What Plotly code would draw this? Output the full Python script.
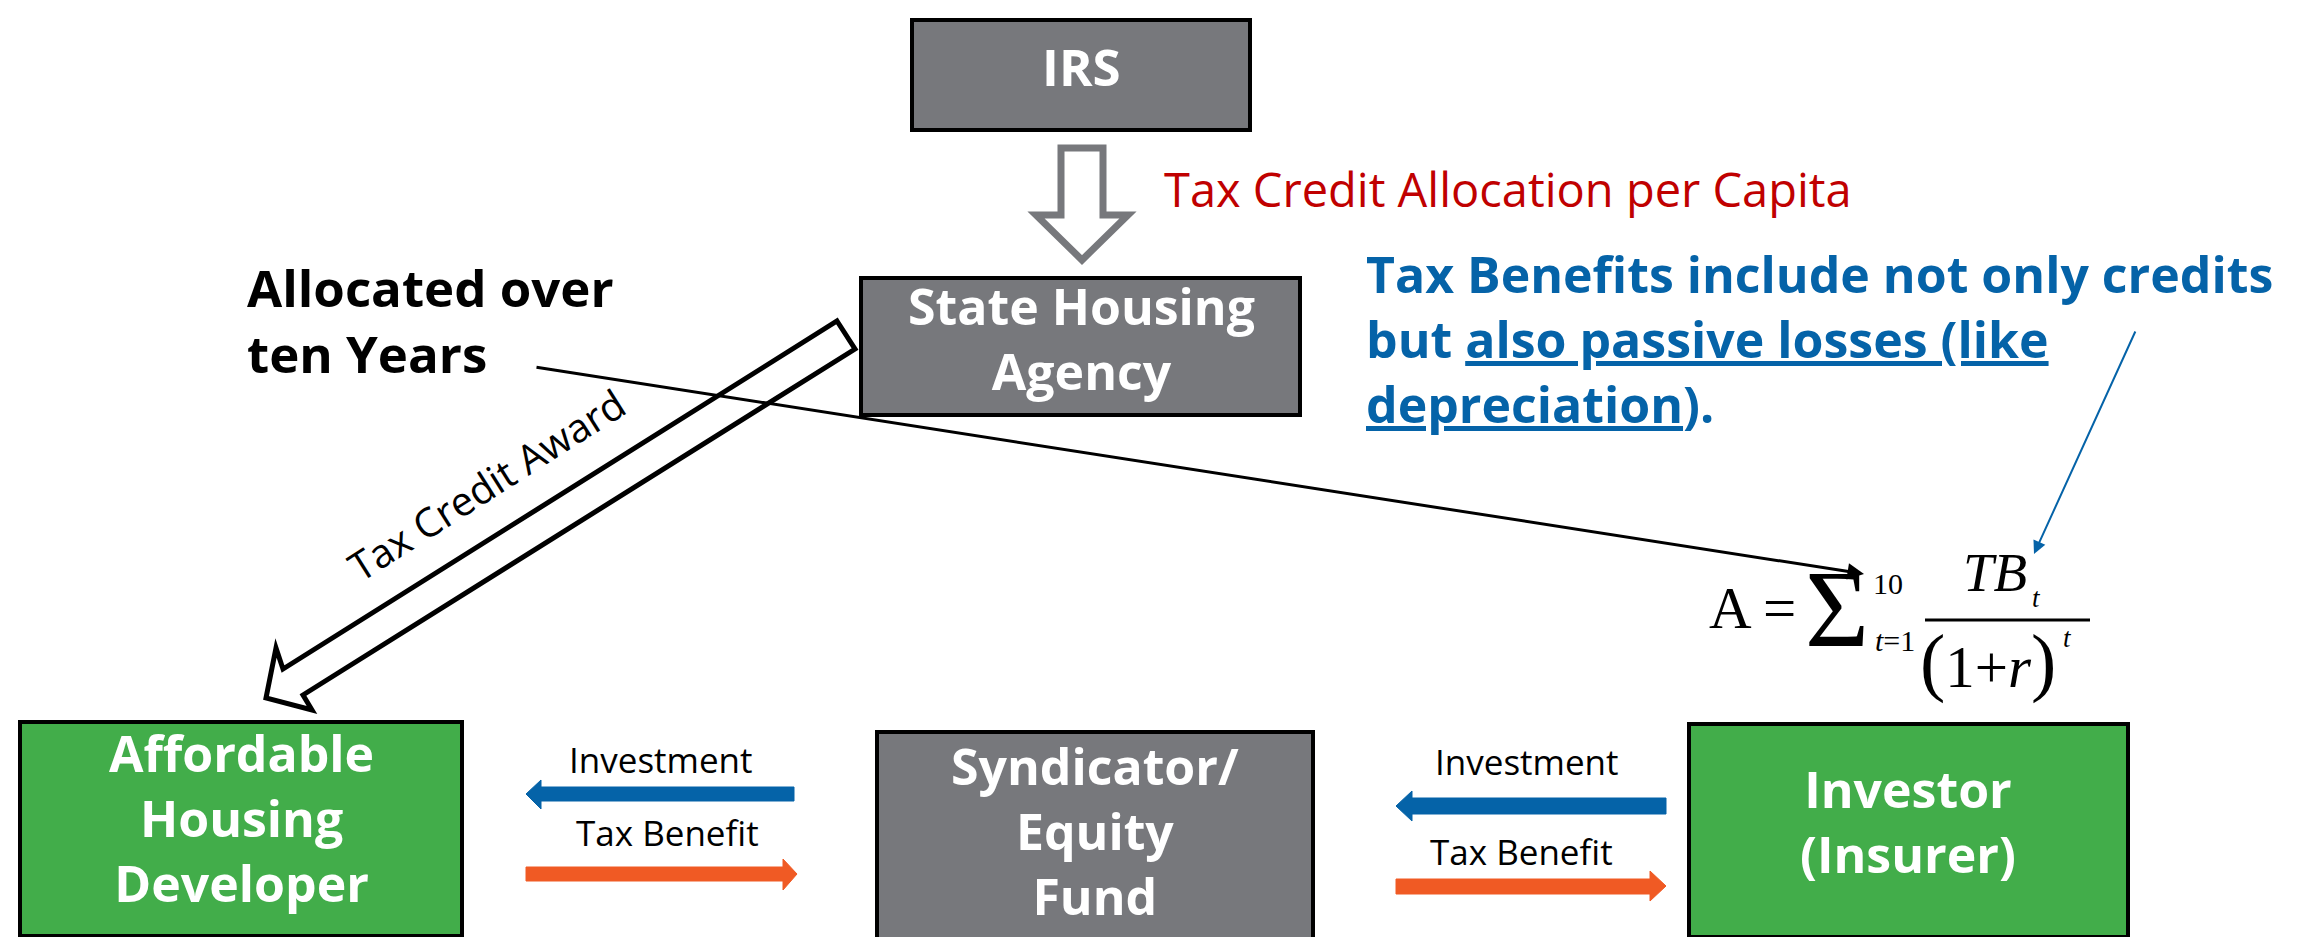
import plotly.graph_objects as go

# ---- diagram content ----
node_labels = ["IRS", "State Housing<br>Agency", "Affordable<br>Housing<br>Developer",
               "Syndicator/<br>Equity<br>Fund", "Investor<br>(Insurer)"]
node_fill = ["#77787c", "#77787c", "#42ad4a", "#77787c", "#42ad4a"]
flow_labels = ["Investment", "Tax Benefit", "Investment", "Tax Benefit"]
allocation_label = "Tax Credit Allocation per Capita"
award_label = "Tax Credit Award"
note_left = "Allocated over<br>ten Years"
note_right = ("Tax Benefits include not only credits<br>but <u>also passive losses (like</u>"
              "<br><u>depreciation</u>).")

# ---- layout geometry ----
W, H = 2310, 937
box_rects = [(904, 12, 1242, 122), (853, 270, 1292, 407), (12, 714, 454, 928),
             (869, 724, 1305, 960), (1681, 716, 2120, 929)]
box_text_pos = [(1073, 68), (1073, 340), (233, 820), (1087, 833), (1900, 823)]
box_font = [51, 50, 50, 50, 50]

BLUE = "#0563a8"
ORANGE = "#f05a24"
RED = "#c00000"
GREY = "#77787c"
SANS = "'Open Sans', Lato, sans-serif"
SERIF = "'Liberation Serif', 'DejaVu Serif', serif"

fig = go.Figure()
fig.add_trace(go.Scatter(x=[0, W], y=[0, H], mode="markers",
                         marker=dict(opacity=0), hoverinfo="skip", showlegend=False))

shapes = []
annotations = []

def poly(pts):
    return "M " + " L ".join(f"{x},{y}" for x, y in pts) + " Z"

def txt(x, y, text, size, color="black", family=SANS, xanchor="center", align="center",
        angle=0, dy=-10):
    annotations.append(dict(x=x, y=y + dy, xref="x", yref="y", text=text, showarrow=False,
                            font=dict(family=family, size=size, color=color), align=align,
                            xanchor=xanchor, yanchor="middle", textangle=angle))

# boxes
for (x0, y0, x1, y1), fill, lab, (tx, ty), fs in zip(box_rects, node_fill, node_labels,
                                                     box_text_pos, box_font):
    shapes.append(dict(type="rect", x0=x0, y0=y0, x1=x1, y1=y1, xref="x", yref="y",
                       fillcolor=fill, line=dict(color="black", width=4)))
    txt(tx, ty, f"<b>{lab}</b>", fs, "white")

# hollow down arrow IRS -> State
down_arrow = [(1053, 140), (1095, 140), (1095, 207), (1120, 207), (1074, 252),
              (1028, 207), (1053, 207)]
shapes.append(dict(type="path", path=poly(down_arrow), xref="x", yref="y",
                   fillcolor="white", line=dict(color=GREY, width=7)))

# hollow diagonal arrow State -> Developer
diag_arrow = [(829, 313), (847, 341), (295, 687), (304, 702), (258, 690), (268, 640), (275, 661)]
shapes.append(dict(type="path", path=poly(diag_arrow), xref="x", yref="y",
                   fillcolor="white", line=dict(color="black", width=5)))

# solid flow arrows
flow_arrows = [
    ([(786, 779), (786, 793), (533, 793), (533, 801), (518, 786), (533, 772), (533, 779)], BLUE),
    ([(518, 859), (518, 873), (775, 873), (775, 882), (789, 866), (775, 851), (775, 859)], ORANGE),
    ([(1658, 790), (1658, 806), (1404, 806), (1404, 813), (1388, 798), (1404, 783), (1404, 790)], BLUE),
    ([(1388, 871), (1388, 886), (1642, 886), (1642, 893), (1658, 878), (1642, 863), (1642, 871)], ORANGE),
]
for pts, col in flow_arrows:
    shapes.append(dict(type="path", path=poly(pts), xref="x", yref="y",
                       fillcolor=col, line=dict(color=col, width=1)))

flow_label_pos = [(653, 760), (659, 833), (1519, 762), (1513, 852)]
for lab, (x, y) in zip(flow_labels, flow_label_pos):
    txt(x, y, lab, 35, dy=-9)

# red allocation label
txt(1154, 190, allocation_label, 47, RED, xanchor="left", dy=-9)

# award label (rotated)
txt(478, 485, award_label, 40, angle=-32.5, dy=-9)

# notes
txt(237, 322, f"<b>{note_left}</b>", 51, xanchor="left", align="left")
txt(1356, 341, f"<b>{note_right}</b>", 50, BLUE, xanchor="left", align="left")

# thin arrows
annotations.append(dict(x=1856, y=566, ax=527, ay=359, xref="x", yref="y", axref="x", ayref="y",
                        text="", showarrow=True, arrowhead=2, arrowsize=1.1, arrowwidth=3,
                        arrowcolor="black"))
annotations.append(dict(x=2026, y=546, ax=2128, ay=322, xref="x", yref="y", axref="x", ayref="y",
                        text="", showarrow=True, arrowhead=2, arrowsize=1.3, arrowwidth=2,
                        arrowcolor=BLUE))

# formula A = sum_{t=1}^{10} TB_t / (1+r)^t   (text, x, visual centre y, size)
PAREN = 'font-size:76px'
formula_parts = [
    ("A =", 1744, 607, 59),
    ("\u03a3", 1829, 608, 110),
    ("10", 1880, 582, 30),
    ("<i>t</i>=1", 1887, 639, 30),
    ("<i>TB</i>", 1987, 571, 55),
    ("<i>t</i>", 2028, 597, 27),
    (f'<span style="{PAREN}">(</span>1+<i>r</i><span style="{PAREN}">)</span>', 1980, 660, 59),
    ("<i>t</i>", 2059, 637, 27),
]
for t, x, y, sz in formula_parts:
    txt(x, y, t, sz, family=SERIF, dy=-7)
shapes.append(dict(type="line", x0=1917, y0=612, x1=2082, y1=612, xref="x", yref="y",
                   line=dict(color="black", width=3)))

fig.update_layout(
    width=W, height=H, margin=dict(l=0, r=0, t=0, b=0),
    paper_bgcolor="white", plot_bgcolor="white",
    xaxis=dict(range=[0, W], visible=False, fixedrange=True),
    yaxis=dict(range=[H, 0], visible=False, fixedrange=True),
    shapes=shapes, annotations=annotations, showlegend=False,
)
fig.write_html("out.html", config={"displayModeBar": False})
